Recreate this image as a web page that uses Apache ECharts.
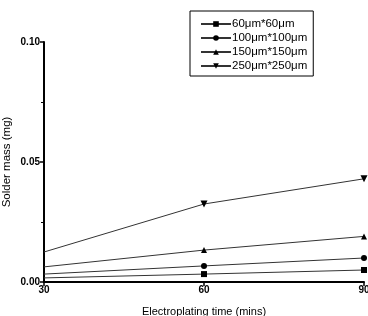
<!DOCTYPE html>
<html>
<head>
<meta charset="utf-8">
<script src="https://cdn.jsdelivr.net/npm/echarts@6/dist/echarts.min.js"></script>
<style>
  html, body { margin: 0; padding: 0; background: #fff; }
  #main { width: 368px; height: 316px; }
</style>
</head>
<body>
<div id="main"></div>
<script>
// 数据
var times = [30, 60, 90];
var seriesNames = ["60\u03bcm*60\u03bcm", "100\u03bcm*100\u03bcm", "150\u03bcm*150\u03bcm", "250\u03bcm*250\u03bcm"];
var mass60 = [0.0017, 0.0033, 0.005];
var mass100 = [0.0033, 0.0067, 0.010];
var mass150 = [0.0063, 0.0133, 0.019];
var mass250 = [0.0125, 0.0325, 0.043];
var yTicks = [0, 0.05, 0.10];

var font = "Liberation Sans";
var downTri = "path://M0,0 L10,0 L5,9 Z";
var symbols = ["rect", "circle", "triangle", downTri];
var values = [mass60, mass100, mass150, mass250];

// 第一个点(30)在原图上没有标记
function pairs(arr) {
    return times.map(function(t, i) {
        if (i == 0) {
            return {value: [t, arr[i]], symbol: "none"};
        }
        return [t, arr[i]];
    });
}

var myChart = echarts.init(document.getElementById("main"));

var series = [];
for (var i = 0; i < seriesNames.length; i++) {
    series.push({
        name: seriesNames[i],
        type: "line",
        data: pairs(values[i]),
        symbol: symbols[i],
        symbolSize: i == 3 ? 7 : 6,
        lineStyle: {color: "#333", width: 1},
        itemStyle: {color: "#000"},
        clip: false
    });
}

var option = {
    animation: false,
    textStyle: {fontFamily: font},
    legend: {
        orient: "vertical",
        left: 190,
        top: 11,
        padding: [7, 6, 4, 10],
        itemGap: 2,
        itemWidth: 30,
        itemHeight: 7,
        borderColor: "#000",
        borderWidth: 1,
        textStyle: {fontFamily: font, fontSize: 11.5, color: "#000", padding: [0, 0, 0, -4]},
        data: seriesNames
    },
    grid: {left: 44, right: 4, top: 42, bottom: 34, outerBoundsMode: "none", containLabel: false},
    xAxis: {
        type: "value",
        min: 30,
        max: 90,
        interval: 30,
        name: "Electroplating time (mins)",
        nameLocation: "middle",
        nameGap: 24,
        nameMoveOverlap: false,
        nameTextStyle: {fontSize: 11, color: "#000", fontFamily: font},
        splitLine: {show: false},
        axisLine: {lineStyle: {color: "#000", width: 2}},
        axisTick: {inside: false, length: 4, lineStyle: {color: "#000", width: 1.5}},
        axisLabel: {fontSize: 10, fontWeight: "bold", color: "#000", margin: 3}
    },
    yAxis: {
        type: "value",
        min: yTicks[0],
        max: yTicks[2],
        interval: 0.05,
        name: "Solder mass (mg)",
        nameLocation: "middle",
        nameGap: 31,
        nameMoveOverlap: false,
        nameTextStyle: {fontSize: 11.5, color: "#000", fontFamily: font},
        splitLine: {show: false},
        axisLine: {show: true, lineStyle: {color: "#000", width: 2}},
        axisTick: {show: true, inside: false, length: 4, lineStyle: {color: "#000", width: 1.5}},
        minorTick: {show: true, splitNumber: 2, length: 3, lineStyle: {color: "#000"}},
        axisLabel: {
            fontSize: 10, fontWeight: "bold", color: "#000", margin: 4,
            formatter: function(v) { return v.toFixed(2); }
        }
    },
    series: series
};
myChart.setOption(option);
</script>
</body>
</html>
